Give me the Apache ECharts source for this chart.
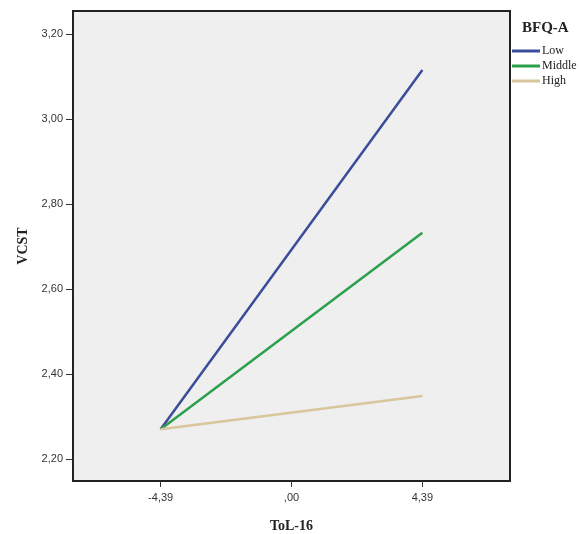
<!DOCTYPE html>
<html>
<head>
<meta charset="utf-8">
<script src="https://cdn.jsdelivr.net/npm/echarts@6/dist/echarts.min.js"></script>
<style>
  html, body { margin: 0; padding: 0; background: #fff; }
  #chart { width: 581px; height: 534px; }
</style>
</head>
<body>
<div id="chart"></div>
<script>
// ToL-16 values (mean -1SD, +1SD)
const tolValues = [-4.39, 4.39];
const xTicks = [-4.39, 0, 4.39];
const yTicks = [2.2, 2.4, 2.6, 2.8, 3.0, 3.2];
// VCST by BFQ-A level
const lowVcst = [2.27, 3.115];
const middleVcst = [2.27, 2.732];
const highVcst = [2.27, 2.348];

function fmtComma(v) {
  let s = v.toFixed(2).replace('.', ',');
  if (s.startsWith('0,')) s = s.slice(1);
  if (s.startsWith('-0,')) s = '-' + s.slice(2);
  return s;
}

function pairs(ys) {
  return tolValues.map((x, i) => [x, ys[i]]);
}

window.addEventListener('load', function() {
  const chart = echarts.init(document.getElementById('chart'));

  const option = {
    backgroundColor: '#ffffff',
    animation: false,
    title: {
      text: 'BFQ-A',
      left: 522,
      top: 21,
      padding: 0,
      textStyle: { fontFamily: 'Liberation Serif', fontWeight: 'bold', fontSize: 15, color: '#222' }
    },
    legend: {
      orient: 'vertical',
      left: 512,
      top: 45,
      padding: 0,
      icon: 'rect',
      itemWidth: 28,
      itemHeight: 3,
      itemGap: 3,
      textStyle: { fontFamily: 'Liberation Serif', fontSize: 12, color: '#222', lineHeight: 12, padding: [0, 0, 0, -3] },
      data: ['Low', 'Middle', 'High']
    },
    grid: {
      left: 73,
      top: 11,
      right: 71,
      bottom: 53,
      outerBoundsMode: 'none',
      show: true,
      backgroundColor: '#efefef',
      borderColor: '#222',
      borderWidth: 2
    },
    xAxis: {
      type: 'value',
      min: -7.33,
      max: 7.33,
      name: 'ToL-16',
      nameLocation: 'middle',
      nameGap: 38,
      nameTextStyle: { fontFamily: 'Liberation Serif', fontWeight: 'bold', fontSize: 14, color: '#222' },
      axisLine: { show: true, onZero: false, lineStyle: { color: '#222', width: 2 } },
      axisTick: { show: true, length: 6, customValues: xTicks, lineStyle: { color: '#333' } },
      axisLabel: {
        customValues: xTicks,
        formatter: fmtComma,
        margin: 11,
        fontFamily: 'Liberation Sans',
        fontSize: 11,
        color: '#333'
      },
      splitLine: { show: false }
    },
    yAxis: {
      type: 'value',
      min: 2.148,
      max: 3.254,
      name: 'VCST',
      nameLocation: 'middle',
      nameGap: 43,
      nameRotate: 90,
      nameTextStyle: { fontFamily: 'Liberation Serif', fontWeight: 'bold', fontSize: 14, color: '#222' },
      axisLine: { show: true, onZero: false, lineStyle: { color: '#222', width: 2 } },
      axisTick: { show: true, length: 7, customValues: yTicks, lineStyle: { color: '#333' } },
      axisLabel: {
        customValues: yTicks,
        formatter: fmtComma,
        margin: 10,
        fontFamily: 'Liberation Sans',
        fontSize: 11,
        color: '#333'
      },
      splitLine: { show: false }
    },
    series: [
      {
        name: 'Low',
        type: 'line',
        data: pairs(lowVcst),
        showSymbol: false,
        color: '#3c4c9a',
        lineStyle: { width: 2.5 }
      },
      {
        name: 'Middle',
        type: 'line',
        data: pairs(middleVcst),
        showSymbol: false,
        color: '#2c9f4a',
        lineStyle: { width: 2.5 }
      },
      {
        name: 'High',
        type: 'line',
        data: pairs(highVcst),
        showSymbol: false,
        color: '#d8c69c',
        lineStyle: { width: 2.5 }
      }
    ]
  };

  chart.setOption(option);

  window.addEventListener('resize', function() {
    chart.resize();
  });
});
</script>
</body>
</html>
